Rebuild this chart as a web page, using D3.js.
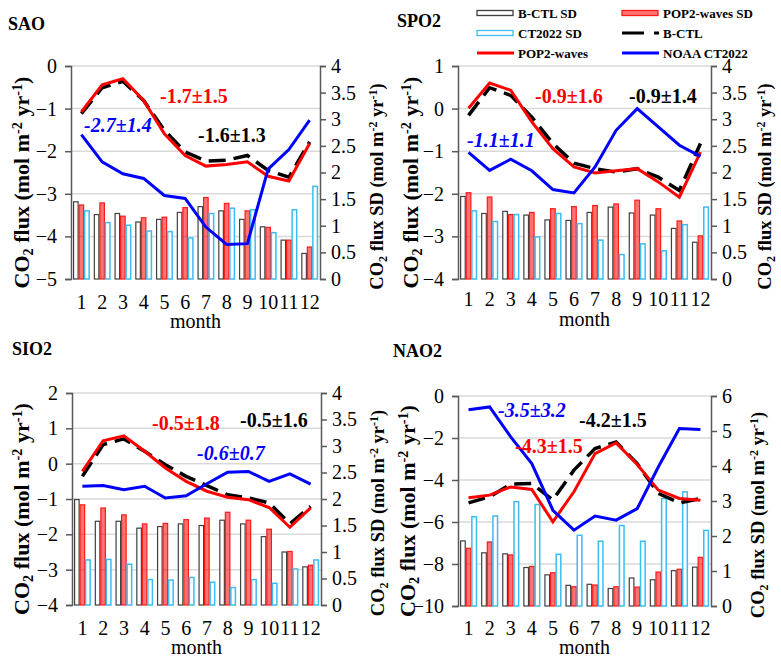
<!DOCTYPE html>
<html>
<head>
<meta charset="utf-8">
<style>
  body { margin: 0; background: #fff; }
  svg text { font-family: "Liberation Serif", "Times New Roman", serif; }
</style>
</head>
<body>
<svg width="781" height="663" font-family="Liberation Serif"></svg>
<script src="https://d3js.org/d3.v7.min.js"></script>
<script>

var months = d3.range(1, 13);

// monthly CO2 flux (mol m-2 yr-1)
var saoCtl = [-1.12, -0.51, -0.36, -0.81, -1.51, -2.02, -2.23, -2.21, -2.10, -2.45, -2.61, -1.78],
    saoPop = [-1.08, -0.44, -0.30, -0.81, -1.59, -2.10, -2.35, -2.31, -2.25, -2.59, -2.70, -1.82],
    saoCt  = [-1.61, -2.25, -2.53, -2.64, -3.04, -3.11, -3.78, -4.19, -4.17, -2.42, -1.96, -1.27];
var spoCtl = [-0.16, 0.49, 0.31, -0.20, -0.82, -1.28, -1.41, -1.49, -1.41, -1.61, -1.92, -0.82],
    spoPop = [0.01, 0.60, 0.43, -0.31, -0.94, -1.37, -1.51, -1.46, -1.41, -1.72, -2.08, -1.02],
    spoCt  = [-1.03, -1.45, -1.19, -1.46, -1.90, -1.98, -1.37, -0.51, 0.00, -0.43, -0.86, -1.12];
var sioCtl = [-0.36, 0.54, 0.70, 0.35, -0.03, -0.36, -0.62, -0.88, -0.97, -1.11, -1.70, -1.21],
    sioPop = [-0.22, 0.65, 0.79, 0.35, -0.12, -0.50, -0.78, -0.95, -1.02, -1.24, -1.80, -1.25],
    sioCt  = [-0.64, -0.62, -0.74, -0.64, -0.97, -0.91, -0.57, -0.24, -0.22, -0.50, -0.29, -0.58];
var naoCtl = [-5.09, -4.80, -4.20, -4.17, -4.95, -3.53, -2.50, -2.19, -3.22, -4.64, -5.09, -4.88],
    naoPop = [-4.85, -4.72, -4.33, -4.45, -5.99, -4.56, -2.74, -2.23, -3.26, -4.48, -4.88, -4.96],
    naoCt  = [-0.65, -0.52, -1.95, -3.22, -5.44, -6.39, -5.72, -5.91, -5.36, -3.38, -1.55, -1.60];

// monthly SD (mol m-2 yr-1)
var saoCtlSd = [1.45, 1.21, 1.23, 1.07, 1.12, 1.25, 1.36, 1.28, 1.12, 0.98, 0.73, 0.48],
    saoPopSd = [1.39, 1.43, 1.18, 1.15, 1.16, 1.34, 1.53, 1.42, 1.28, 0.97, 0.73, 0.60],
    saoCtSd  = [1.28, 1.06, 1.01, 0.90, 0.89, 0.77, 1.23, 1.33, 1.30, 0.87, 1.30, 1.74];
var spoCtlSd = [1.55, 1.23, 1.27, 1.20, 1.11, 1.10, 1.25, 1.35, 1.24, 1.20, 0.95, 0.69],
    spoPopSd = [1.62, 1.54, 1.21, 1.25, 1.32, 1.36, 1.38, 1.41, 1.48, 1.32, 1.09, 0.81],
    spoCtSd  = [1.28, 1.08, 1.21, 0.79, 1.23, 1.04, 0.73, 0.46, 0.66, 0.53, 1.02, 1.35];
var sioCtlSd = [1.99, 1.58, 1.58, 1.45, 1.48, 1.53, 1.50, 1.60, 1.53, 1.29, 1.00, 0.72],
    sioPopSd = [1.89, 1.83, 1.70, 1.53, 1.54, 1.61, 1.64, 1.75, 1.60, 1.43, 1.01, 0.75],
    sioCtSd  = [0.85, 0.86, 0.77, 0.48, 0.47, 0.52, 0.43, 0.33, 0.48, 0.41, 0.68, 0.85];
var naoCtlSd = [1.86, 1.52, 1.49, 1.10, 0.89, 0.59, 0.62, 0.50, 0.80, 0.75, 1.01, 1.11],
    naoPopSd = [1.65, 1.83, 1.46, 1.13, 0.95, 0.55, 0.60, 0.55, 0.54, 0.97, 1.05, 1.39],
    naoCtSd  = [2.55, 2.57, 2.98, 2.90, 1.48, 2.02, 1.85, 2.30, 1.85, 3.07, 3.26, 2.16];

var panels = [
  { name: "SAO", tx: 8, ty: 30, x0: 71, x1: 320, y0: 66, y1: 279,
    left: [-5, 0], leftStep: 1, right: [0, 4], rightStep: 0.5,
    ctl: saoCtl, pop: saoPop, ct: saoCt, ctlSd: saoCtlSd, popSd: saoPopSd, ctSd: saoCtSd,
    numY: 309, monthY: 328, ltX: 29, rtX: 383,
    notes: [["-1.7\u00b11.5", "red", 160, 103, false], ["-2.7\u00b11.4", "blue", 84, 132, true], ["-1.6\u00b11.3", "black", 198, 142, false]] },
  { name: "SPO2", tx: 397, ty: 27, x0: 458, x1: 711, y0: 66, y1: 279,
    left: [-4, 1], leftStep: 1, right: [0, 4], rightStep: 0.5,
    ctl: spoCtl, pop: spoPop, ct: spoCt, ctlSd: spoCtlSd, popSd: spoPopSd, ctSd: spoCtSd,
    numY: 306, monthY: 326, ltX: 418, rtX: 771,
    notes: [["-0.9\u00b11.6", "red", 535, 103, false], ["-0.9\u00b11.4", "black", 629, 103, false], ["-1.1\u00b11.1", "blue", 467, 147, true]] },
  { name: "SIO2", tx: 12, ty: 355, x0: 72, x1: 321, y0: 393, y1: 605,
    left: [-4, 2], leftStep: 1, right: [0, 4], rightStep: 0.5,
    ctl: sioCtl, pop: sioPop, ct: sioCt, ctlSd: sioCtlSd, popSd: sioPopSd, ctSd: sioCtSd,
    numY: 635, monthY: 654, ltX: 29, rtX: 384,
    notes: [["-0.5\u00b11.8", "red", 152, 430, false], ["-0.5\u00b11.6", "black", 240, 427, false], ["-0.6\u00b10.7", "blue", 197, 460, true]] },
  { name: "NAO2", tx: 393, ty: 357, x0: 458, x1: 711, y0: 396, y1: 606,
    left: [-10, 0], leftStep: 2, right: [0, 6], rightStep: 1,
    ctl: naoCtl, pop: naoPop, ct: naoCt, ctlSd: naoCtlSd, popSd: naoPopSd, ctSd: naoCtSd,
    numY: 635, monthY: 654, ltX: 415, rtX: 764,
    notes: [["-3.5\u00b13.2", "blue", 498, 417, true], ["-4.2\u00b11.5", "black", 579, 427, false], ["-4.3\u00b11.5", "red", 515, 453, false]] }
];

var svg = d3.select("svg");

function axisTitle(g, x, y, sd, size) {
  var t = g.append("text")
      .attr("transform", "translate(" + x + "," + y + ") rotate(-90)")
      .attr("text-anchor", "middle")
      .attr("font-weight", "bold")
      .attr("font-size", size);
  t.append("tspan").text("CO");
  t.append("tspan").attr("font-size", "65%").attr("dy", "0.3em").text("2");
  t.append("tspan").attr("dy", "-0.2em").text(sd ? " flux SD (mol m" : " flux (mol m");
  t.append("tspan").attr("font-size", "65%").attr("dy", "-0.5em").text("-2");
  t.append("tspan").attr("dy", "0.32em").text(" yr");
  t.append("tspan").attr("font-size", "65%").attr("dy", "-0.5em").text("-1");
  t.append("tspan").attr("dy", "0.32em").text(")");
}

panels.forEach(function(p) {
  var g = svg.append("g");

  var x = d3.scaleBand().domain(months).range([p.x0, p.x1]).paddingInner(0.2).paddingOuter(0.1);
  var xs = d3.scaleBand().domain(["ctl", "pop", "ct"]).range([0, x.bandwidth()]);
  var yl = d3.scaleLinear().domain(p.left).range([p.y1, p.y0]);
  var yr = d3.scaleLinear().domain(p.right).range([p.y1, p.y0]);
  var cx = function(d, i) { return x(months[i]) + x.bandwidth() / 2; };

  var lt = d3.range(p.left[0], p.left[1] + 1e-9, p.leftStep);
  var rt = d3.range(p.right[0], p.right[1] + 1e-9, p.rightStep);

  // gridlines
  g.selectAll(".grid").data(lt.filter(function(v) { return v !== p.left[0]; }))
    .enter().append("line")
      .attr("x1", p.x0).attr("x2", p.x1)
      .attr("y1", function(d) { return yl(d); }).attr("y2", function(d) { return yl(d); })
      .attr("stroke", "#d9d9d9").attr("stroke-width", 1.5);

  // SD bars
  var series = [
    { key: "ctl", vals: p.ctlSd, fill: "#fff", fo: 1, stroke: "#404040", sw: 1.2 },
    { key: "pop", vals: p.popSd, fill: "#ff0000", fo: 0.55, stroke: "#ff1a1a", sw: 1.2 },
    { key: "ct", vals: p.ctSd, fill: "#fff", fo: 1, stroke: "#3cbcf0", sw: 1.5 }
  ];
  series.forEach(function(s) {
    g.selectAll(".b" + s.key).data(s.vals)
      .enter().append("rect")
        .attr("x", function(d, i) { return x(months[i]) + xs(s.key) + 0.5; })
        .attr("width", xs.bandwidth() - 1)
        .attr("y", function(d) { return yr(d); })
        .attr("height", function(d) { return yr(0) - yr(d); })
        .attr("fill", s.fill).attr("fill-opacity", s.fo)
        .attr("stroke", s.stroke).attr("stroke-width", s.sw);
  });

  // flux lines
  var line = d3.line().x(cx).y(function(d) { return yl(d); });
  g.append("path").datum(p.ctl).attr("d", line)
    .attr("fill", "none").attr("stroke", "#000").attr("stroke-width", 3.5)
    .attr("stroke-dasharray", "17,8");
  g.append("path").datum(p.pop).attr("d", line)
    .attr("fill", "none").attr("stroke", "#ff0000").attr("stroke-width", 3);
  g.append("path").datum(p.ct).attr("d", line)
    .attr("fill", "none").attr("stroke", "#0000ff").attr("stroke-width", 3);

  // axes
  var la = g.append("g").attr("transform", "translate(" + p.x0 + ",0)")
    .call(d3.axisLeft(yl).tickValues(lt).tickSize(6).tickPadding(8).tickFormat(d3.format("d")));
  var ra = g.append("g").attr("transform", "translate(" + p.x1 + ",0)")
    .call(d3.axisRight(yr).tickValues(rt).tickSize(6).tickPadding(5).tickFormat(function(d) { return String(d); }));
  [la, ra].forEach(function(a) {
    a.attr("font-family", null).attr("font-size", null);
    a.select(".domain").attr("stroke", "#595959").attr("stroke-width", 1.5);
    a.selectAll(".tick line").attr("stroke", "#595959").attr("stroke-width", 1.5);
    a.selectAll(".tick text").attr("fill", "#000").attr("font-size", 20);
  });

  // month numbers
  g.selectAll(".mn").data(months)
    .enter().append("text")
      .attr("x", function(d) { return x(d) + x.bandwidth() / 2; })
      .attr("y", p.numY)
      .attr("text-anchor", "middle")
      .attr("font-size", 20)
      .text(function(d) { return d; });

  g.append("text")
    .attr("x", (p.x0 + p.x1) / 2).attr("y", p.monthY)
    .attr("text-anchor", "middle").attr("font-size", 20)
    .text("month");

  axisTitle(g, p.ltX, (p.y0 + p.y1) / 2 + 10, false, 22);
  axisTitle(g, p.rtX, (p.y0 + p.y1) / 2 + 14, true, 18.5);

  g.append("text")
    .attr("x", p.tx).attr("y", p.ty)
    .attr("font-weight", "bold").attr("font-size", 18)
    .text(p.name);

  p.notes.forEach(function(n) {
    g.append("text")
      .attr("x", n[2]).attr("y", n[3])
      .attr("fill", n[1])
      .attr("font-weight", "bold")
      .attr("font-style", n[4] ? "italic" : "normal")
      .attr("font-size", 20)
      .text(n[0]);
  });
});

// legend
var legendItems = [
  { label: "B-CTL SD", kind: "rect", fill: "#fff", fo: 1, stroke: "#404040", col: 0, row: 0 },
  { label: "POP2-waves SD", kind: "rect", fill: "#ff0000", fo: 0.55, stroke: "#ff1a1a", col: 1, row: 0 },
  { label: "CT2022 SD", kind: "rect", fill: "#fff", fo: 1, stroke: "#3cbcf0", col: 0, row: 1 },
  { label: "B-CTL", kind: "dash", stroke: "#000", col: 1, row: 1 },
  { label: "POP2-waves", kind: "line", stroke: "#ff0000", col: 0, row: 2 },
  { label: "NOAA CT2022", kind: "line", stroke: "#0000ff", col: 1, row: 2 }
];
var lg = svg.append("g");
legendItems.forEach(function(d) {
  var sx = d.col ? 622 : 477, cy = 13 + d.row * 20;
  if (d.kind === "rect") {
    lg.append("rect").attr("x", sx).attr("y", cy - 2.5).attr("width", 36).attr("height", 5)
      .attr("fill", d.fill).attr("fill-opacity", d.fo)
      .attr("stroke", d.stroke).attr("stroke-width", 1.3);
  } else {
    lg.append("line").attr("x1", sx).attr("x2", sx + 37).attr("y1", cy).attr("y2", cy)
      .attr("stroke", d.stroke).attr("stroke-width", 3)
      .attr("stroke-dasharray", d.kind === "dash" ? "22,10,6,100" : null);
  }
  lg.append("text").attr("x", sx + 41).attr("y", cy + 4.5)
    .attr("font-weight", "bold").attr("font-size", 13)
    .text(d.label);
});

</script>
</body>
</html>
